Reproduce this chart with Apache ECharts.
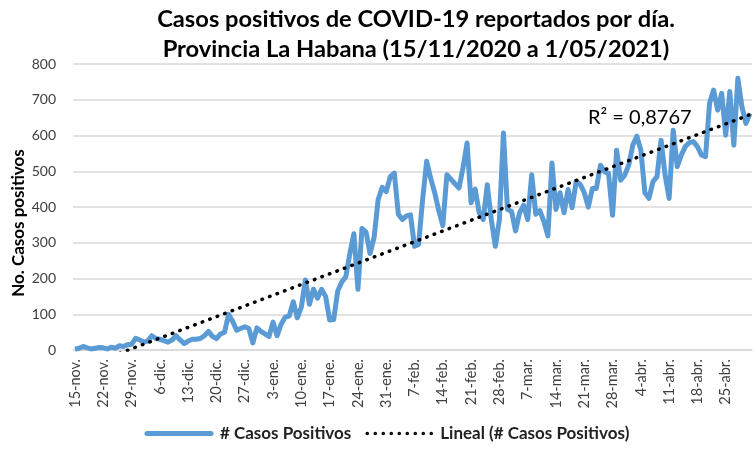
<!DOCTYPE html>
<html>
<head>
<meta charset="utf-8">
<script src="https://cdn.jsdelivr.net/npm/echarts@6/dist/echarts.min.js"></script>
<style>
  html, body { margin: 0; padding: 0; background: #fff; }
  #chart { width: 755px; height: 450px; }
</style>
</head>
<body>
<div id="chart"></div>
<script>
// meses del eje (nombre, primer dia, ultimo dia)
var mesNombres = ['nov.', 'dic.', 'ene.', 'feb.', 'mar.', 'abr.', 'may.'];
var mesDesde   = [15, 1, 1, 1, 1, 1, 1];
var mesHasta   = [30, 31, 31, 28, 31, 30, 1];

// casos positivos diarios 15/11/2020 - 1/05/2021
var casos = [
  2, 5, 10, 6, 3, 5, 7, 6, 3, 8, 5, 12, 10, 15,
  16, 33, 28, 22, 25, 40, 32, 30, 26, 22, 28, 40, 28, 18,
  25, 30, 30, 32, 40, 52, 38, 32, 45, 50, 100, 80, 55, 60,
  65, 60, 20, 62, 52, 45, 38, 78, 40, 72, 92, 95, 135, 90,
  120, 196, 128, 170, 145, 170, 150, 84, 85, 165, 190, 205, 270, 325,
  170, 340, 330, 270, 315, 420, 455, 443, 485, 495, 380, 365, 375, 378,
  290, 295, 420, 528, 480, 440, 390, 348, 490, 478, 465, 453, 510, 579,
  412, 450, 384, 365, 462, 365, 290, 365, 607, 393, 388, 333, 384, 405,
  365, 490, 380, 390, 360, 319, 523, 393, 440, 384, 449, 398, 472, 463,
  440, 400, 452, 452, 517, 499, 494, 377, 559, 475, 489, 517, 573, 598,
  559, 440, 424, 471, 485, 587, 489, 424, 615, 513, 545, 569, 580, 583,
  569, 545, 541, 690, 727, 671, 718, 601, 723, 573, 760, 681, 634, 662
];

var yTicks = [0, 100, 200, 300, 400, 500, 600, 700, 800];

var fechas = [];
for (var m = 0; m < mesNombres.length; m++) {
  for (var d = mesDesde[m]; d <= mesHasta[m]; d++) {
    fechas.push(d + '-' + mesNombres[m]);
  }
}

/* tendencia lineal (minimos cuadrados) */
var n = casos.length, sx = 0, sy = 0, sxy = 0, sxx = 0;
for (var i = 0; i < n; i++) {
  sx += i + 1; sy += casos[i]; sxy += (i + 1) * casos[i]; sxx += (i + 1) * (i + 1);
}
var b = (n * sxy - sx * sy) / (n * sxx - sx * sx);
var a = (sy - b * sx) / n;
var tendencia = [];
for (var i = 0; i < n; i++) {
  tendencia.push(+(a + b * (i + 1)).toFixed(2));
}

// iconos de leyenda (caja 72x12)
var iconoLinea = 'path://M0,0 L0,0 M72,12 L72,12 M4,3.5 L68,3.5 A2.5,2.5 0 0 1 68,8.5 L4,8.5 A2.5,2.5 0 0 1 4,3.5 Z';
var iconoPuntos = 'path://M0,0 L0,0 M72,12 L72,12';
for (var k = 0; k < 9; k++) {
  var cx = 4 + k * 8;
  iconoPuntos += ' M' + (cx - 1.8) + ',6 a1.8,1.8 0 1,0 3.6,0 a1.8,1.8 0 1,0 -3.6,0 Z';
}

var fuente = 'Lato, "Open Sans", sans-serif';
var chart = echarts.init(document.getElementById('chart'));
var option = {
  animation: false,
  title: {
    text: 'Casos positivos de COVID-19 reportados por día.\nProvincia La Habana (15/11/2020 a 1/05/2021)',
    left: 411,
    textAlign: 'center',
    top: -1,
    textStyle: { fontFamily: fuente, fontWeight: 'bold', fontSize: 23.7, lineHeight: 30, color: '#000' }
  },
  legend: {
    bottom: 3,
    left: 138,
    itemGap: 12,
    itemWidth: 72,
    itemHeight: 12,
    textStyle: { fontFamily: fuente, fontWeight: 'bold', fontSize: 17, color: '#222' },
    data: [
      { name: '# Casos Positivos', icon: iconoLinea, itemStyle: { color: '#5B9BD5' } },
      { name: 'Lineal (# Casos Positivos)', icon: iconoPuntos, itemStyle: { color: '#000' } }
    ]
  },
  grid: { left: 73, right: 3, top: 64, bottom: 100, outerBoundsMode: 'none' },
  xAxis: {
    type: 'category',
    data: fechas,
    boundaryGap: true,
    axisLine: { lineStyle: { color: '#d9d9d9', width: 1.5 } },
    axisTick: { interval: 6, length: 5, lineStyle: { color: '#d9d9d9' } },
    axisLabel: { interval: 6, rotate: 90, fontFamily: fuente, fontSize: 14.5, color: '#404040', margin: 9 }
  },
  yAxis: {
    type: 'value',
    min: yTicks[0],
    max: yTicks[yTicks.length - 1],
    interval: 100,
    axisLine: { show: false },
    axisTick: { show: false },
    axisLabel: { fontFamily: fuente, fontSize: 14, color: '#404040', margin: 17 },
    splitLine: { lineStyle: { color: '#d9d9d9', width: 1.5 } }
  },
  series: [
    {
      name: '# Casos Positivos',
      type: 'line',
      data: casos,
      symbol: 'none',
      lineStyle: { color: '#5B9BD5', width: 5, join: 'round' },
      itemStyle: { color: '#5B9BD5' },
      z: 2
    },
    {
      name: 'Lineal (# Casos Positivos)',
      type: 'line',
      data: tendencia,
      symbol: 'none',
      clip: true,
      lineStyle: { color: '#000', width: 3.5, type: [0.5, 7.5], cap: 'round' },
      itemStyle: { color: '#000' },
      z: 3
    }
  ],
  graphic: [
    {
      type: 'text',
      x: 19,
      y: 223,
      rotation: Math.PI / 2,
      style: {
        text: 'No. Casos positivos', fontFamily: fuente, fontWeight: 'bold', fontSize: 17,
        fill: '#000', align: 'center', verticalAlign: 'middle'
      }
    },
    {
      type: 'text',
      left: 588,
      top: 108,
      style: { text: 'R² = 0,8767', fontFamily: fuente, fontSize: 20, fill: '#000' }
    }
  ]
};
chart.setOption(option);
</script>
</body>
</html>
